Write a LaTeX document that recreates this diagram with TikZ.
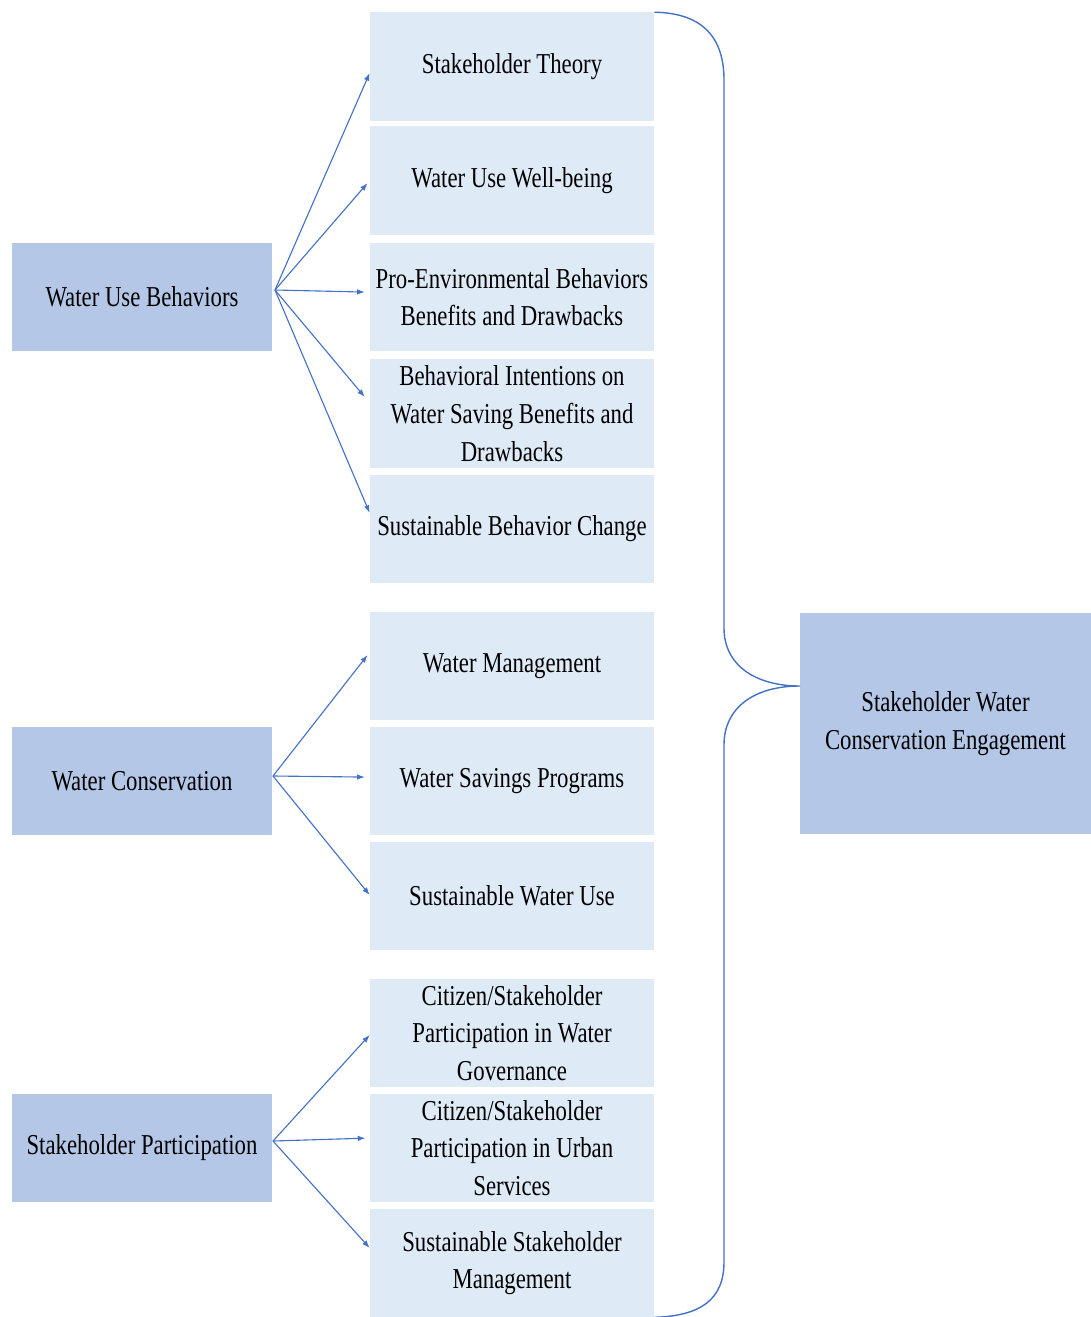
\documentclass[tikz,border=0pt]{standalone}
\usepackage{fontspec}
\setmainfont{Liberation Serif}[FakeStretch=0.79]
\usetikzlibrary{arrows.meta,calc}

\definecolor{boxdark}{HTML}{B4C7E7}
\definecolor{boxlight}{HTML}{DEEBF7}
\definecolor{linkblue}{HTML}{4472C4}

\begin{document}
\begin{tikzpicture}[x=0.025cm,y=-0.025cm,
  every node/.style={font=\fontsize{20.5}{26.8}\selectfont, align=center, inner sep=0pt},
  mainbox/.style={fill=boxdark, minimum width=6.5cm, minimum height=2.7cm},
  subbox/.style={fill=boxlight, minimum width=7.1cm, minimum height=2.7cm},
  goalbox/.style={fill=boxdark, minimum width=7.275cm, minimum height=5.525cm},
  link/.style={linkblue, line width=0.8pt, -{Latex[length=5.5pt,width=4pt]}},
  brace/.style={linkblue, line width=1pt}]
  \useasboundingbox (0,0) rectangle (1091,1317);
  % left column
  \node[mainbox] (wub) at (142,297) {Water Use Behaviors};
  \node[mainbox] (wc) at (142,781) {Water Conservation};
  \node[mainbox] (sp) at (142,1148) {Stakeholder Participation};
  % middle column
  \node[subbox] (st) at (512,66.5) {Stakeholder Theory};
  \node[subbox] (wuw) at (512,180.5) {Water Use Well-being};
  \node[subbox] (peb) at (512,297) {Pro-Environmental Behaviors\\Benefits and Drawbacks};
  \node[subbox] (bi) at (512,413.5) {Behavioral Intentions on\\Water Saving Benefits and\\Drawbacks};
  \node[subbox] (sbc) at (512,529) {Sustainable Behavior Change};
  \node[subbox] (wm) at (512,666) {Water Management};
  \node[subbox] (wsp) at (512,781) {Water Savings Programs};
  \node[subbox] (swu) at (512,896) {Sustainable Water Use};
  \node[subbox] (cwg) at (512,1033) {Citizen/Stakeholder\\Participation in Water\\Governance};
  \node[subbox] (cus) at (512,1148) {Citizen/Stakeholder\\Participation in Urban\\Services};
  \node[subbox] (ssm) at (512,1263) {Sustainable Stakeholder\\Management};
  % right
  \node[goalbox] (swce) at (945.5,723.5) {Stakeholder Water\\Conservation Engagement};
  \coordinate (tip) at (800,686);
  % arrows
  \coordinate (o1) at (275,290);
  \coordinate (o2) at (273,776);
  \coordinate (o3) at (273,1141);
  \draw[link] (o1) -- ([yshift=-4.6pt]st.west);
  \draw[link] (o1) -- ([xshift=-1.5pt,yshift=-1.8pt]wuw.west);
  \draw[link] (o1) -- ([xshift=-3.5pt,yshift=3.5pt]peb.west);
  \draw[link] (o1) -- ([xshift=-3.5pt,yshift=11.7pt]bi.west);
  \draw[link] (o1) -- ([yshift=11.4pt]sbc.west);
  \draw[link] (o2) -- ([xshift=-1.5pt,yshift=7.8pt]wm.west);
  \draw[link] (o2) -- ([xshift=-3.5pt,yshift=2.8pt]wsp.west);
  \draw[link] (o2) -- ([yshift=0.7pt]swu.west);
  \draw[link] (o3) -- ([yshift=-1.4pt]cwg.west);
  \draw[link] (o3) -- ([xshift=-3pt,yshift=7pt]cus.west);
  \draw[link] (o3) -- ([yshift=10.7pt]ssm.west);
  % brace
  \draw[brace] (st.north east) .. controls (705,13) and (724,40) .. (724,80)
    -- (724,628) .. controls (724,665) and (755,686) .. (tip)
    .. controls (755,686) and (724,707) .. (724,745)
    -- (724,1262) .. controls (724,1300) and (700,1316) .. (ssm.south east);
\end{tikzpicture}
\end{document}
